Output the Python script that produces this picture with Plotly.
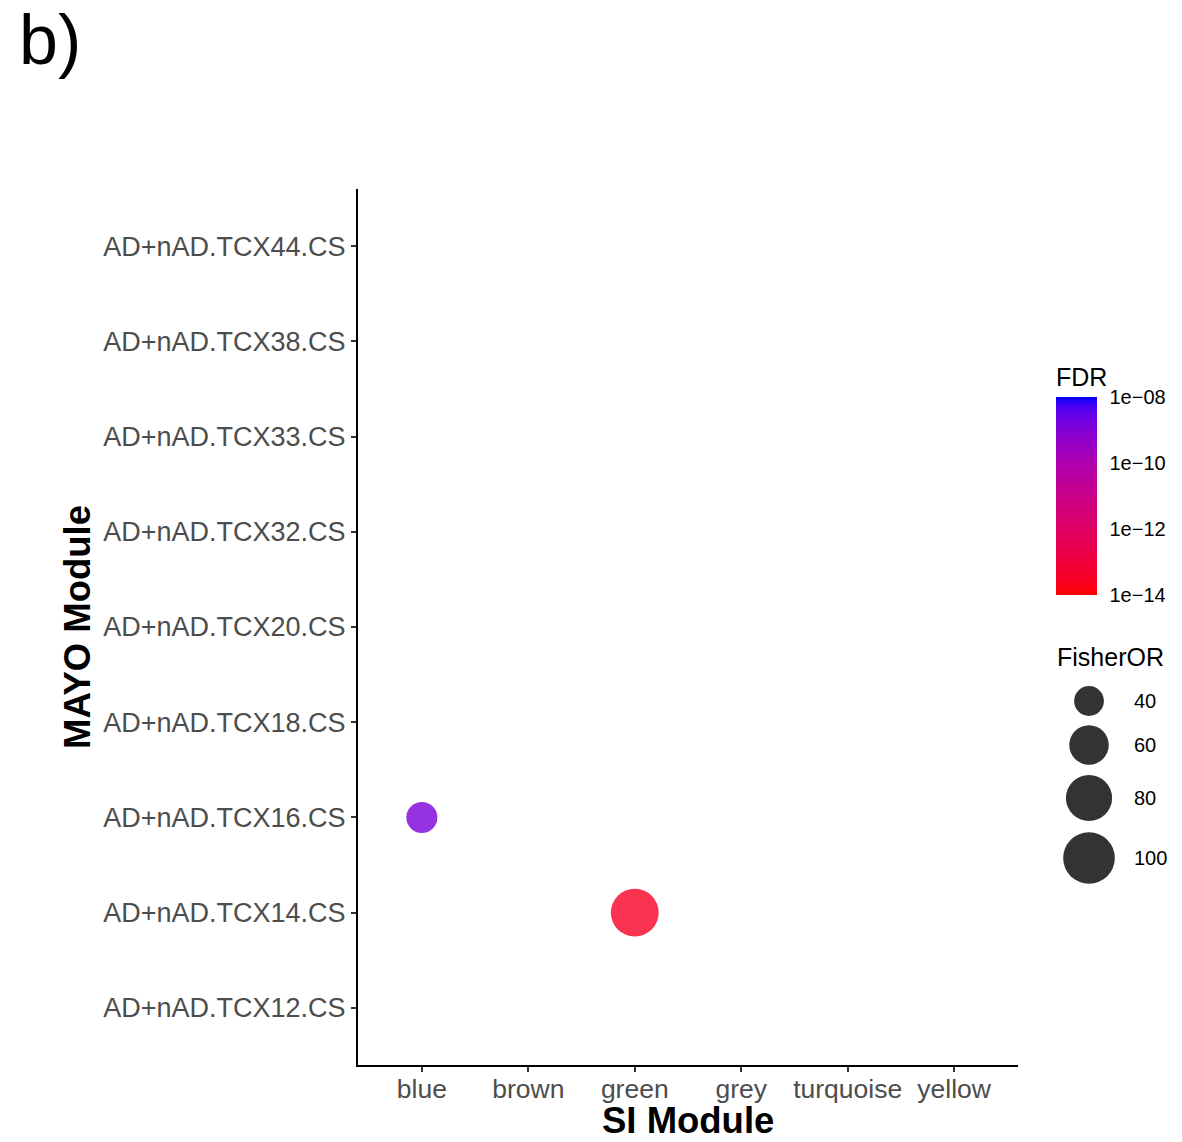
import numpy as np
import plotly.graph_objects as go

# ---- data -------------------------------------------------------------
si_modules = ["blue", "brown", "green", "grey", "turquoise", "yellow"]
mayo_modules = [
    "AD+nAD.TCX12.CS", "AD+nAD.TCX14.CS", "AD+nAD.TCX16.CS",
    "AD+nAD.TCX18.CS", "AD+nAD.TCX20.CS", "AD+nAD.TCX32.CS",
    "AD+nAD.TCX33.CS", "AD+nAD.TCX38.CS", "AD+nAD.TCX44.CS",
]
hit_si = ["blue", "green"]
hit_mayo = ["AD+nAD.TCX16.CS", "AD+nAD.TCX14.CS"]
hit_fdr = [1.3e-9, 3.0e-14]
hit_fisher_or = [42, 86]

fdr_breaks = [-14, -12, -10, -8]
fdr_labels = ["1e\u221214", "1e\u221212", "1e\u221210", "1e\u221208"]
or_breaks = [40, 60, 80, 100]

# ---- canvas geometry (pixels) ------------------------------------------
W, H = 1182, 1142
PL, PR, PT, PB = 358, 1018, 189, 1065
FONT = "Liberation Sans, Arial, Helvetica, sans-serif"

# colour bar box
CB_L, CB_R, CB_T, CB_B = 1056, 1097, 400, 595


def px_x(p):
    return p / W


def px_y(p):
    return 1 - p / H


# ---- red -> blue gradient interpolated in CIE Lab -----------------------
def _srgb_to_lab(rgb):
    c = np.asarray(rgb, float) / 255.0
    c = np.where(c > 0.04045, ((c + 0.055) / 1.055) ** 2.4, c / 12.92)
    m = np.array([[0.4124, 0.3576, 0.1805],
                  [0.2126, 0.7152, 0.0722],
                  [0.0193, 0.1192, 0.9505]])
    xyz = m @ c / np.array([0.95047, 1.0, 1.08883])
    f = np.where(xyz > 0.008856, np.cbrt(xyz), 7.787 * xyz + 16 / 116)
    return np.array([116 * f[1] - 16, 500 * (f[0] - f[1]), 200 * (f[1] - f[2])])


def _lab_to_srgb(lab):
    L, a, b = lab
    fy = (L + 16) / 116
    fx = fy + a / 500
    fz = fy - b / 200
    f = np.array([fx, fy, fz])
    xyz = np.where(f ** 3 > 0.008856, f ** 3, (f - 16 / 116) / 7.787)
    xyz = xyz * np.array([0.95047, 1.0, 1.08883])
    mi = np.array([[3.2406, -1.5372, -0.4986],
                   [-0.9689, 1.8758, 0.0415],
                   [0.0557, -0.2040, 1.0570]])
    c = mi @ xyz
    c = np.clip(c, 0, 1)
    c = np.where(c > 0.0031308, 1.055 * c ** (1 / 2.4) - 0.055, 12.92 * c)
    return np.clip(np.round(c * 255), 0, 255).astype(int)


lab_lo = _srgb_to_lab([255, 0, 0])
lab_hi = _srgb_to_lab([0, 0, 255])
colorscale = []
for t in np.linspace(0, 1, 25):
    r, g, b = _lab_to_srgb(lab_lo + t * (lab_hi - lab_lo))
    colorscale.append([float(t), f"rgb({r},{g},{b})"])


# ---- size scale (ggplot-like area scaling) ------------------------------
def or_to_diameter(v):
    return 16.5 + 4.2 * np.sqrt(np.maximum(np.asarray(v, float) - 30, 0))


fig = go.Figure()

# main dot plot
fig.add_trace(go.Scatter(
    x=hit_si, y=hit_mayo, mode="markers",
    marker=dict(
        size=or_to_diameter(hit_fisher_or),
        color=np.log10(hit_fdr),
        colorscale=colorscale, cmin=fdr_breaks[0], cmax=fdr_breaks[-1],
        opacity=0.8, line=dict(width=0),
        colorbar=dict(
            title=dict(text="FDR", side="top",
                       font=dict(family=FONT, size=25, color="black")),
            tickvals=fdr_breaks, ticktext=fdr_labels,
            tickfont=dict(family=FONT, size=20, color="black"),
            ticks="outside", ticklen=9, tickcolor="rgba(255,255,255,0)",
            thickness=CB_R - CB_L, thicknessmode="pixels",
            len=CB_B - CB_T + 36, lenmode="pixels",
            x=px_x(CB_L), xanchor="left", xpad=0,
            y=px_y(CB_B), yanchor="bottom", ypad=0,
            outlinewidth=0,
        ),
    ),
    showlegend=False, hoverinfo="x+y",
    xaxis="x", yaxis="y",
))

# FisherOR size key
key_y = [701, 745, 798, 858]
fig.add_trace(go.Scatter(
    x=[32] * len(or_breaks), y=key_y, mode="markers",
    marker=dict(size=or_to_diameter(or_breaks), color="#333333",
                opacity=1, line=dict(width=0)),
    showlegend=False, hoverinfo="skip",
    xaxis="x2", yaxis="y2",
))
for b, yy in zip(or_breaks, key_y):
    fig.add_annotation(x=px_x(1132), y=px_y(yy), xref="paper", yref="paper",
                       text=str(b), showarrow=False, xanchor="left",
                       yanchor="middle",
                       font=dict(family=FONT, size=20, color="black"))

fig.add_annotation(x=px_x(1055), y=px_y(657), xref="paper", yref="paper",
                   text="FisherOR", showarrow=False, xanchor="left",
                   yanchor="middle",
                   font=dict(family=FONT, size=25, color="black"))

# axis titles and panel tag
fig.add_annotation(x=px_x((PL + PR) / 2), y=px_y(1120), xref="paper",
                   yref="paper", text="<b>SI Module</b>", showarrow=False,
                   xanchor="center", yanchor="middle",
                   font=dict(family=FONT, size=36.5, color="black"))
fig.add_annotation(x=px_x(77), y=px_y((PT + PB) / 2), xref="paper",
                   yref="paper", text="<b>MAYO Module</b>", showarrow=False,
                   textangle=-90, xanchor="center", yanchor="middle",
                   font=dict(family=FONT, size=36.5, color="black"))
fig.add_annotation(x=px_x(17), y=px_y(40), xref="paper", yref="paper",
                   text="b)", showarrow=False, xanchor="left",
                   yanchor="middle",
                   font=dict(family=FONT, size=70, color="black"))

axis_common = dict(
    showgrid=False, zeroline=False, showline=True, linecolor="black",
    linewidth=2, ticks="outside", ticklen=5, tickwidth=2,
    tickcolor="#333333",
)

fig.update_layout(
    width=W, height=H,
    margin=dict(l=0, r=0, t=0, b=0),
    paper_bgcolor="white", plot_bgcolor="white",
    xaxis=dict(domain=[px_x(PL), px_x(PR)], type="category",
               categoryorder="array", categoryarray=si_modules,
               range=[-0.6, len(si_modules) - 0.4], anchor="y",
               ticklabelstandoff=-6,
               tickfont=dict(family=FONT, size=26.5, color="#4D4D4D"),
               **axis_common),
    yaxis=dict(domain=[px_y(PB), px_y(PT)], type="category",
               categoryorder="array", categoryarray=mayo_modules,
               range=[-0.6, len(mayo_modules) - 0.4], anchor="x",
               tickfont=dict(family=FONT, size=27, color="#4D4D4D"),
               **axis_common),
    xaxis2=dict(domain=[px_x(1057), 1.0], range=[0, W - 1057],
                visible=False, anchor="y2"),
    yaxis2=dict(domain=[0, 1], range=[H, 0], visible=False, anchor="x2"),
)

fig.write_html("out.html")
